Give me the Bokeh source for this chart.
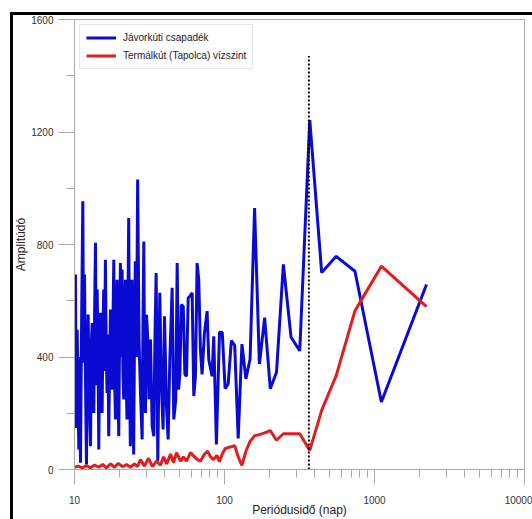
from bokeh.plotting import figure
from bokeh.models import Range1d, FixedTicker, BasicTickFormatter
from bokeh.embed import file_html
from bokeh.resources import INLINE

# ---- data ----
blue_period = [10.05, 10.10, 10.15, 10.22, 10.28, 10.35, 10.42, 10.55, 10.69, 10.82,
               10.96, 11.15, 11.36, 11.50, 11.66, 11.85, 12.02, 12.17, 12.33, 12.55,
               12.79, 12.95, 13.12, 13.28, 13.45, 13.62, 13.80, 13.98, 14.16, 14.34,
               14.52, 14.70, 14.89, 15.08, 15.28, 15.47, 15.67, 15.87, 16.07, 16.28,
               16.49, 16.70, 16.91, 17.15, 17.38, 17.60, 17.82, 18.05, 18.28, 18.50,
               18.75, 19.00, 19.23, 19.48, 19.73, 19.98, 20.24, 20.50, 20.76, 21.02,
               21.29, 21.56, 21.84, 22.12, 22.40, 22.70, 22.98, 23.27, 23.57, 23.87,
               24.18, 24.50, 24.80, 25.10, 25.44, 25.90, 26.36, 26.95, 27.54, 28.25,
               28.60, 28.98, 29.35, 29.72, 30.20, 30.78, 31.40, 32.11, 32.94, 33.79,
               34.40, 35.02, 35.92, 37.04, 37.98, 38.96, 39.81, 41.03, 42.11, 43.20,
               44.77, 45.92, 47.34, 48.37, 49.42, 50.46, 51.52, 53.09, 54.43, 55.83,
               57.27, 58.75, 60.85, 62.41, 64.02, 65.67, 67.36, 69.10, 70.88, 73.5,
               76.56, 78.53, 82.63, 84.77, 88.31, 92.6, 96.6, 101.0, 105.8, 111.1,
               117.0, 123.4, 130.7, 138.9, 148.1, 158.7, 170.9, 185.2, 202.0, 222.2,
               246.9, 277.8, 317.4, 370.3, 444.4, 555.5, 740.7, 1111.0, 2222.0]
blue_amp = [563, 300, 693, 380, 148, 420, 497, 260, 71, 400,
            24, 520, 954, 380, 693, 300, 18, 420, 551, 250,
            83, 450, 521, 330, 201, 560, 806, 300, 640, 420,
            71, 380, 557, 320, 201, 500, 640, 350, 746, 430,
            272, 480, 118, 380, 569, 420, 284, 520, 746, 330,
            178, 450, 675, 300, 118, 480, 734, 400, 711, 350,
            249, 520, 675, 300, 178, 550, 894, 350, 83, 480,
            675, 300, 53, 450, 740, 400, 1031, 450, 272, 107,
            520, 811, 330, 201, 550, 468, 250, 462, 154, 118,
            480, 699, 30, 628, 296, 142, 545, 225, 107, 391,
            646, 178, 249, 734, 284, 344, 586, 580, 338, 332,
            610, 616, 628, 261, 332, 734, 675, 426, 338, 485,
            563, 391, 332, 474, 89, 488, 488, 287, 304, 458,
            441, 110, 446, 322, 393, 930, 375, 540, 287, 346,
            729, 470, 422, 1242, 700, 758, 705, 240, 658]

red_period = [10.0, 10.6, 11.3, 12.0, 12.8, 13.6, 14.5, 15.4, 16.3, 17.4,
              18.5, 19.6, 20.9, 22.2, 23.6, 25.1, 26.3, 27.5, 29.3, 31.1,
              33.1, 35.2, 37.4, 39.2, 41.1, 43.7, 45.7, 47.9, 50.9, 53.2,
              55.8, 59.3, 63.1, 66.1, 69.2, 73.6, 77.1, 80.7, 84.5, 88.9,
              92.6, 96.6, 101.0, 105.8, 111.1, 117.0, 123.4, 130.7, 138.9, 148.1,
              158.7, 170.9, 185.2, 202.0, 222.2, 246.9, 277.8, 317.4, 370.3, 444.4,
              555.5, 740.7, 1111.0, 2222.0]
red_amp = [8, 12, 5, 14, 6, 16, 8, 18, 6, 20,
           8, 22, 10, 18, 8, 20, 10, 35, 12, 40,
           10, 30, 15, 45, 20, 55, 25, 60, 30, 45,
           30, 60, 45, 35, 30, 55, 65, 45, 35, 50,
           28, 55, 74, 78, 81, 85, 45, 15, 65, 100,
           120, 124, 130, 138, 104, 127, 127, 127, 68, 210,
           334, 564, 723, 579]

annual_period = [365, 365]
annual_amp = [0, 1470]

x_major = [10, 100, 1000, 10000]
x_minor = [20, 30, 40, 50, 60, 70, 80, 90,
           200, 300, 400, 500, 600, 700, 800, 900,
           2000, 3000, 4000, 5000, 6000, 7000, 8000, 9000]
y_major = [0, 400, 800, 1200, 1600]
y_minor = [200, 600, 1000, 1400]

FONT = "Liberation Sans"
GRAY = "#aaaaaa"

p = figure(width=522, height=507, x_axis_type="log",
           x_range=Range1d(10, 10000), y_range=Range1d(0, 1600),
           output_backend="svg", toolbar_location=None,
           min_border_left=64, min_border_right=8, min_border_top=7, min_border_bottom=48,
           background_fill_color="white", border_fill_alpha=0)
p.styles = {"margin-left": "10px", "margin-top": "12px",
            "box-shadow": "inset 3px 3px 0 0 black", "background-color": "white"}

p.grid.visible = False
p.outline_line_color = GRAY
p.outline_line_width = 1

p.line(blue_period, blue_amp, line_color="#0a0ad2", line_width=3,
       legend_label="Jávorkúti csapadék")
p.line(red_period, red_amp, line_color="#e01e1e", line_width=3,
       legend_label="Termálkút (Tapolca) vízszint")
p.line(annual_period, annual_amp, line_color="black", line_width=2, line_dash="2 2")

for ax in (p.xaxis[0], p.yaxis[0]):
    ax.axis_line_color = GRAY
    ax.major_tick_line_color = GRAY
    ax.minor_tick_line_color = GRAY
    ax.major_tick_in = 0
    ax.minor_tick_in = 0
    ax.major_label_text_font = FONT
    ax.major_label_text_font_size = "10px"
    ax.major_label_text_color = "#333333"
    ax.axis_label_text_font = FONT
    ax.axis_label_text_font_size = "12px"
    ax.axis_label_text_font_style = "normal"
    ax.axis_label_text_color = "#222222"

p.xaxis[0].ticker = FixedTicker(ticks=x_major, minor_ticks=x_minor)
p.xaxis[0].formatter = BasicTickFormatter(use_scientific=False)
p.xaxis[0].major_tick_out = 15
p.xaxis[0].minor_tick_out = 8
p.xaxis[0].major_label_standoff = 11
p.xaxis[0].major_label_text_line_height = 1.0
p.xaxis[0].axis_label = "Periódusidő (nap)"
p.xaxis[0].axis_label_standoff = -4
p.xaxis[0].axis_label_text_line_height = 0.9

p.yaxis[0].ticker = FixedTicker(ticks=y_major, minor_ticks=y_minor)
p.yaxis[0].major_tick_out = 16
p.yaxis[0].minor_tick_out = 8
p.yaxis[0].major_label_standoff = 5
p.yaxis[0].axis_label = "Amplitúdó"
p.yaxis[0].axis_label_standoff = 0

lg = p.legend[0]
lg.location = "top_left"
lg.margin = 5
lg.padding = 6
lg.spacing = 5
lg.glyph_width = 30
lg.glyph_height = 13
lg.label_height = 13
lg.label_standoff = 7
lg.label_text_font = FONT
lg.label_text_font_size = "10px"
lg.label_text_color = "#222222"
lg.border_line_color = "#cccccc"
lg.border_line_width = 1
lg.background_fill_alpha = 1

open("out.html", "w").write(file_html(p, INLINE))
